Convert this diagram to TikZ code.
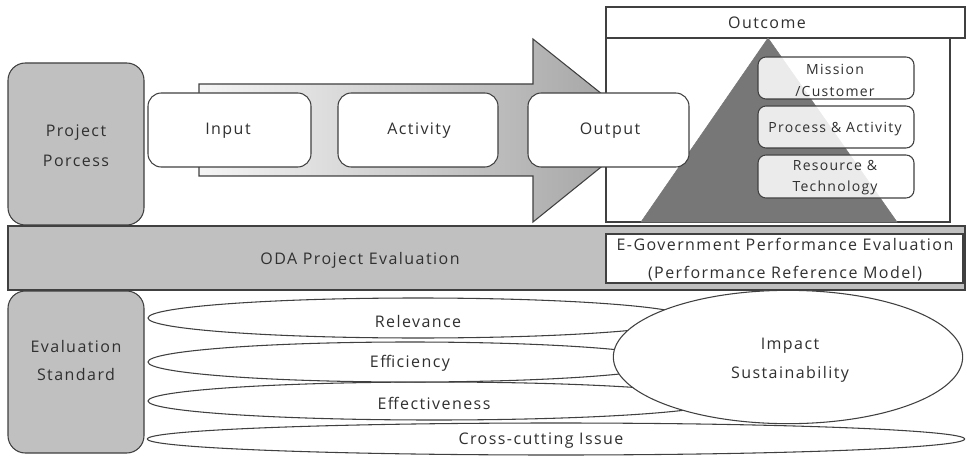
\documentclass[tikz,border=0pt]{standalone}
\usepackage{fontspec}
\setmainfont[LetterSpace=9]{Open Sans}
\usetikzlibrary{shapes.geometric,fit}
\definecolor{boxgray}{HTML}{C0C0C0}
\definecolor{edge}{HTML}{404040}
\definecolor{pyramid}{HTML}{777777}
\definecolor{ink}{HTML}{303030}
\tikzset{
  lbl/.style={font=\fontsize{12}{14}\selectfont, text=ink, inner sep=0pt},
  small/.style={font=\fontsize{10.5}{12}\selectfont, text=ink, inner sep=0pt},
  sidebox/.style={draw=edge, fill=boxgray, rounded corners=13pt, inner sep=0pt, line width=0.8pt},
  stagebox/.style={draw=edge, fill=white, rounded corners=10pt, inner sep=0pt, line width=0.8pt},
  layerbox/.style={draw=edge, fill=white, fill opacity=0.86, rounded corners=6pt, inner sep=0pt, line width=0.8pt},
  plainbox/.style={draw=edge, fill=white, inner sep=0pt, line width=0.8pt},
  criterion/.style={ellipse, draw=edge, fill=white, inner sep=0pt, line width=0.8pt},
}
\begin{document}
\begin{tikzpicture}[x=0.75pt, y=-0.75pt]
\useasboundingbox (0,0) rectangle (967,456);

% process arrow
\shade[draw=edge, line width=0.8pt, left color=gray!8, right color=gray!75]
  (199,84) -- (533,84) -- (533,39) -- (647,130) -- (533,222) -- (533,176) -- (199,176) -- cycle;

% outcome frame with header
\node[plainbox, fit={(606,38) (950,222)}] (frame) {};
\node[plainbox, fit={(606,7) (965,38)}] (outcome) {};
\node[lbl] (outcometxt) at (767,23) {Outcome};

% pyramid with its three layers
\filldraw[fill=pyramid, draw=pyramid] (768,38) -- (897,222) -- (641,222) -- cycle;
\node[layerbox, fit={(758,57) (914,99)}] (mission) {};
\node[layerbox, fit={(758,106) (914,148)}] (processact) {};
\node[layerbox, fit={(758,155) (914,198)}] (resource) {};
\node[small] (mission1) at (835,69) {Mission};
\node[small] (mission2) at (835,92) {/Customer};
\node[small] (processtxt) at (835,129) {Process \& Activity};
\node[small] (resource1) at (835,165) {Resource \&};
\node[small] (resource2) at (835,188) {Technology};

% stages
\node[stagebox, fit={(148,93) (311,167)}] (input) {};
\node[stagebox, fit={(338,93) (498,167)}] (activity) {};
\node[stagebox, fit={(528,93) (689,167)}] (output) {};
\node[lbl] (inputtxt) at (228,131) {Input};
\node[lbl] (activitytxt) at (419,131) {Activity};
\node[lbl] (outputtxt) at (610,131) {Output};

% left labels
\node[sidebox, fit={(8,63) (144,225)}] (projproc) {};
\node[lbl] (projproc1) at (76,133) {Project};
\node[lbl] (projproc2) at (76,161) {Porcess};
\node[sidebox, fit={(8,291) (144,453)}] (evalstd) {};
\node[lbl] (evalstd1) at (76,346) {Evaluation};
\node[lbl] (evalstd2) at (76,374) {Standard};

% evaluation band
\node[draw=edge, fill=boxgray, line width=0.8pt, inner sep=0pt, fit={(8,226) (965,290)}] (band) {};
\node[lbl] (oda) at (360,260) {ODA Project Evaluation};
\node[plainbox, fit={(606,234) (963,283)}] (egov) {};
\node[lbl] (egov1) at (785,244) {E-Government Performance Evaluation};
\node[lbl] (egov2) at (785,274) {(Performance Reference Model)};

% evaluation criteria
\node[criterion, minimum width=613pt, minimum height=24pt] (cross) at (556,439) {};
\node[criterion, minimum width=429pt, minimum height=28.5pt] (effect) at (434,401) {};
\node[criterion, minimum width=393pt, minimum height=30pt] (effic) at (410,362) {};
\node[criterion, minimum width=405pt, minimum height=30pt] (relev) at (418,318) {};
\node[criterion, minimum width=262pt, minimum height=100pt] (impact) at (788,357) {};
\node[lbl] (crosstxt) at (541,441) {Cross-cutting Issue};
\node[lbl] (effecttxt) at (434,403) {Effectiveness};
\node[lbl] (effictxt) at (410,363) {Efficiency};
\node[lbl] (relevtxt) at (418,321) {Relevance};
\node[lbl] (impact1) at (790,346) {Impact};
\node[lbl] (impact2) at (790,374) {Sustainability};
\end{tikzpicture}
\end{document}
